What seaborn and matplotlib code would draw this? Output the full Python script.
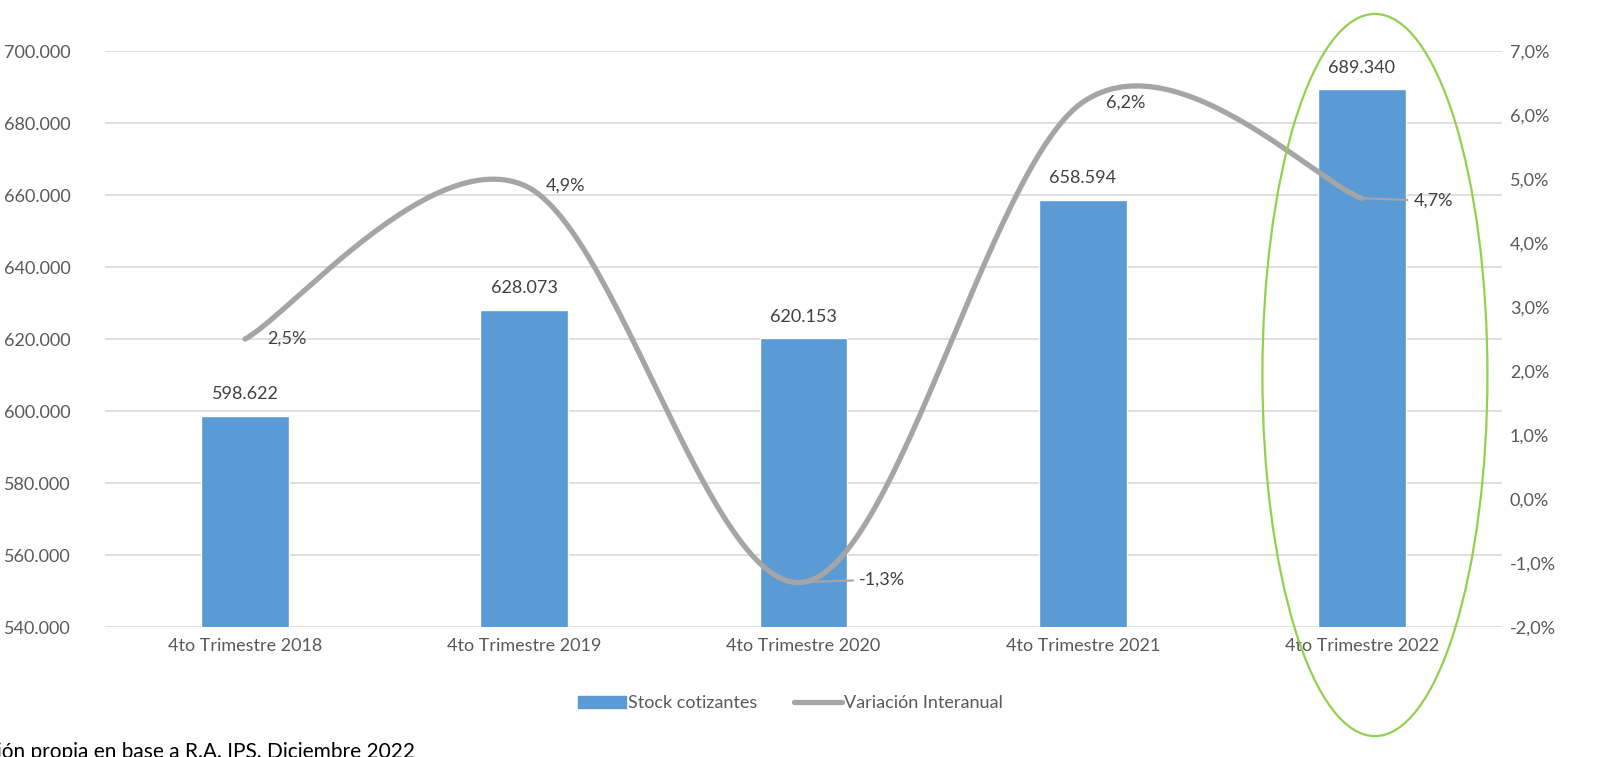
import matplotlib
matplotlib.use("Agg")
import matplotlib.pyplot as plt
from matplotlib.patches import Ellipse
from matplotlib.ticker import FuncFormatter
import numpy as np
import pandas as pd
import seaborn as sns

categories = ["4to Trimestre 2018", "4to Trimestre 2019", "4to Trimestre 2020",
              "4to Trimestre 2021", "4to Trimestre 2022"]
stock = [598622, 628073, 620153, 658594, 689340]
variacion = [2.5, 4.9, -1.3, 6.2, 4.7]

BAR = "#5B9BD5"
LINE = "#A5A5A5"
GRID = "#D9D9D9"
TICK = "#595959"
LABEL = "#404040"

sns.set_theme(style="white")
plt.rcParams["font.family"] = ["Lato", "DejaVu Sans"]


def miles(v, _=None):
    return f"{v:,.0f}".replace(",", ".")


def pct(v, _=None):
    return f"{v:.1f}%".replace(".", ",")


def smooth(x, y, n=60):
    # Excel-like smoothed line (Catmull-Rom bezier segments)
    px = np.concatenate([[x[0]], x, [x[-1]]])
    py = np.concatenate([[y[0]], y, [y[-1]]])
    xs, ys = [], []
    t = np.linspace(0, 1, n)
    for i in range(1, len(px) - 2):
        p0 = np.array([px[i], py[i]])
        p3 = np.array([px[i + 1], py[i + 1]])
        p1 = p0 + (np.array([px[i + 1], py[i + 1]]) - np.array([px[i - 1], py[i - 1]])) / 6
        p2 = p3 - (np.array([px[i + 2], py[i + 2]]) - np.array([px[i], py[i]])) / 6
        b = ((1 - t) ** 3)[:, None] * p0 + (3 * (1 - t) ** 2 * t)[:, None] * p1 \
            + (3 * (1 - t) * t ** 2)[:, None] * p2 + (t ** 3)[:, None] * p3
        xs.append(b[:, 0])
        ys.append(b[:, 1])
    return np.concatenate(xs), np.concatenate(ys)


df = pd.DataFrame({"periodo": categories, "stock": stock, "var": variacion})

fig = plt.figure(figsize=(16.13, 7.57), dpi=100)
ax = fig.add_axes([0.0654, 0.1717, 0.8655, 0.7609])

sns.barplot(data=df, x="periodo", y="stock", color=BAR, saturation=1,
            width=0.315, ax=ax, zorder=2)
ax.set_ylim(540000, 700000)
ax.set_xlim(-0.5, 4.5)
ax.set_yticks(np.arange(540000, 700001, 20000))
ax.yaxis.set_major_formatter(FuncFormatter(miles))
ax.grid(axis="y", color=GRID, linewidth=1.2, zorder=0)
ax.set_axisbelow(True)
ax.set_xlabel("")
ax.set_ylabel("")
for s in ax.spines.values():
    s.set_visible(False)
ax.tick_params(axis="both", length=0, labelsize=13, colors=TICK, pad=8)
ax.tick_params(axis="y", pad=25)

for i, v in enumerate(stock):
    ax.annotate(miles(v), (i, v), xytext=(0, 10), textcoords="offset points",
                ha="center", va="bottom", fontsize=13, color=LABEL)

ax2 = ax.twinx()
ax2.set_ylim(-2.0, 7.0)
ax2.set_yticks(np.arange(-2, 7.01, 1))
ax2.yaxis.set_major_formatter(FuncFormatter(pct))
for s in ax2.spines.values():
    s.set_visible(False)
ax2.tick_params(axis="y", length=0, labelsize=13, colors=TICK, pad=6)

xs, ys = smooth(np.arange(len(variacion), dtype=float), np.array(variacion, dtype=float))
sns.lineplot(x=xs, y=ys, color=LINE, linewidth=3.8, ax=ax2, sort=False,
             solid_capstyle="round", zorder=3)

# label offsets in points (x, y) and whether a leader line is drawn
offsets = [(30, 0), (30, 0), (40, 2), (31, 0), (37, -2)]
leaders = [False, False, True, False, True]
for i, v in enumerate(variacion):
    dx, dy = offsets[i]
    if leaders[i]:
        ax2.annotate(pct(v), (i, v), xytext=(dx, dy), textcoords="offset points",
                     ha="left", va="center", fontsize=13, color=LABEL,
                     arrowprops=dict(arrowstyle="-", color=LINE, lw=1.5,
                                     shrinkA=2, shrinkB=0))
    else:
        ax2.annotate(pct(v), (i, v), xytext=(dx, dy), textcoords="offset points",
                     ha="center", va="center", fontsize=13, color=LABEL)

handles = [plt.Rectangle((0, 0), 1, 1, color=BAR),
           plt.Line2D([0], [0], color=LINE, linewidth=3.8, solid_capstyle="round")]
fig.legend(handles, ["Stock cotizantes", "Variación Interanual"],
           loc="center", bbox_to_anchor=(0.49, 0.071), ncol=2, frameon=False,
           fontsize=13, labelcolor=TICK, handlelength=2.7, handletextpad=0.1,
           columnspacing=2.0)

fig.patches.append(Ellipse((0.8524, 0.5046), 0.1395, 0.954, transform=fig.transFigure,
                           fill=False, edgecolor="#92D050", linewidth=1.6, zorder=5))

fig.text(415 / 1613, 1 - 742 / 757, "Fuente: Elaboración propia en base a R.A. IPS, Diciembre 2022",
         ha="right", va="top", fontsize=15, color="black")

fig.savefig("out.png", dpi=100)
